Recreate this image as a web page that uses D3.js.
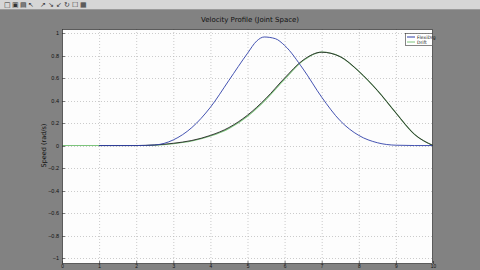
<!DOCTYPE html>
<html>
<head>
<meta charset="utf-8">
<script src="https://cdn.jsdelivr.net/npm/d3@7"></script>
<style>
  html, body { margin: 0; padding: 0; background: #828282; }
  svg { display: block; font-family: "DejaVu Sans", sans-serif; }
</style>
</head>
<body>
<svg id="chart" width="480" height="270"></svg>
<script>
// values (x in s, y in normalised speed)
const xTicks = [0, 1, 2, 3, 4, 5, 6, 7, 8, 9, 10];
const yTicks = [-1, -0.8, -0.6, -0.4, -0.2, 0, 0.2, 0.4, 0.6, 0.8, 1];

const blueX = [1, 1.5, 2, 2.5, 3, 3.5, 4, 4.5, 5, 5.25, 5.45, 5.75, 6, 6.5, 7, 7.5, 8, 8.5, 9, 9.5, 10];
const blueY = [0, 0, 0, 0.005, 0.05, 0.16, 0.34, 0.58, 0.82, 0.93, 0.965, 0.95, 0.89, 0.68, 0.43, 0.22, 0.09, 0.025, 0.003, 0, 0];

const blackX = [1, 2, 2.5, 3, 3.5, 4, 4.5, 5, 5.5, 6, 6.5, 7, 7.5, 8, 8.5, 9, 9.5, 10];
const blackY = [0, 0, 0.005, 0.02, 0.045, 0.09, 0.16, 0.27, 0.42, 0.6, 0.76, 0.83, 0.79, 0.66, 0.49, 0.29, 0.1, 0];

const greenX = [0, 0.5, 1, 2, 2.5, 3, 3.5, 4, 4.5, 5, 5.5, 6, 6.5, 7, 7.5, 8, 8.5, 9, 9.5, 10];
const greenY = [0, 0, 0, 0, 0.003, 0.016, 0.04, 0.084, 0.152, 0.26, 0.41, 0.59, 0.755, 0.83, 0.79, 0.66, 0.49, 0.29, 0.1, 0];

const legendNames = ["FlexiDrg", "Drift"];
const legendColors = ["#2f3fa8", "#7cc47c"];

const svg = d3.select("#chart");

// toolbar strip
svg.append("rect").attr("x", 0).attr("y", 0).attr("width", 480).attr("height", 9).attr("fill", "#d6d6d6");
svg.append("line").attr("x1", 0).attr("x2", 480).attr("y1", 9.5).attr("y2", 9.5).attr("stroke", "#9a9a9a");
const icons = ["\u25A1", "\u25A3", "\u25A4", "\u2196", "\u2197", "\u2198", "\u2199", "\u21BB", "\u2610", "\u25A6"];
svg.append("g").selectAll("text").data(icons).join("text")
  .attr("x", (d, i) => 4 + i * 8 + (i > 3 ? 4 : 0))
  .attr("y", 7)
  .attr("font-size", 7)
  .attr("fill", "#333")
  .text(d => d);

const left = 62, right = 433;
const x = d3.scaleLinear().domain([0, 10]).range([left, right]);
const y = d3.scaleLinear().domain([-1.053, 1.036]).range([264, 29]);

// axes background
svg.append("rect")
  .attr("x", left).attr("y", y(1.036))
  .attr("width", right - left).attr("height", y(-1.053) - y(1.036))
  .attr("fill", "#fdfdfd");

// grid
const grid = svg.append("g").attr("stroke", "#b4b4b4").attr("stroke-width", 0.7).attr("stroke-dasharray", "1,2");
grid.selectAll(".gx").data(xTicks.slice(1, -1)).join("line")
  .attr("x1", d => x(d) + 0.5).attr("x2", d => x(d) + 0.5)
  .attr("y1", y(1.036)).attr("y2", y(-1.053));
grid.selectAll(".gy").data(yTicks).join("line")
  .attr("y1", d => Math.round(y(d)) + 0.5).attr("y2", d => Math.round(y(d)) + 0.5)
  .attr("x1", left).attr("x2", right);

// axes
const xAxis = d3.axisBottom(x).tickValues(xTicks).tickSize(0).tickPadding(0.5).tickFormat(d3.format("d"));
const yAxis = d3.axisLeft(y).tickValues(yTicks).tickSize(0).tickPadding(3).tickFormat(d => d3.format("")(d));

const gx = svg.append("g").attr("transform", `translate(0,${y(-1.053)})`).call(xAxis);
const gy = svg.append("g").attr("transform", `translate(${left},0)`).call(yAxis);
[gx, gy].forEach(g => {
  g.select(".domain").remove();
  g.selectAll("text").attr("font-size", 5.5).attr("fill", "#111");
});
gx.selectAll("text").attr("font-size", 4.8);

// inner tick marks
svg.append("g").selectAll("line").data(yTicks).join("line")
  .attr("x1", left).attr("x2", left + 3)
  .attr("y1", d => Math.round(y(d)) + 0.5).attr("y2", d => Math.round(y(d)) + 0.5)
  .attr("stroke", "#222").attr("stroke-width", 0.6);
svg.append("g").selectAll("line").data(xTicks).join("line")
  .attr("x1", d => x(d) + 0.5).attr("x2", d => x(d) + 0.5)
  .attr("y1", y(-1.053)).attr("y2", y(-1.053) - 3)
  .attr("stroke", "#222").attr("stroke-width", 0.6);

// curves
const line = d3.line().x(d => x(d[0])).y(d => y(d[1])).curve(d3.curveMonotoneX);
const plot = (xs, ys, color, w) => svg.append("path")
  .datum(xs.map((v, i) => [v, ys[i]]))
  .attr("d", line)
  .attr("fill", "none")
  .attr("stroke", color)
  .attr("stroke-width", w);

plot(greenX, greenY, legendColors[1], 1.1);
plot(blackX, blackY, "#262626", 0.9);
plot(blueX, blueY, legendColors[0], 0.9);

// frame
svg.append("rect")
  .attr("x", left + 0.5).attr("y", y(1.036) + 0.5)
  .attr("width", right - left - 1).attr("height", y(-1.053) - y(1.036) - 1)
  .attr("fill", "none").attr("stroke", "#333").attr("stroke-width", 0.8);

// legend
const lg = svg.append("g").attr("transform", "translate(405,33)");
lg.append("rect").attr("x", 0.5).attr("y", 0.5).attr("width", 27).attr("height", 12)
  .attr("fill", "#fff").attr("stroke", "#333").attr("stroke-width", 0.6);
legendNames.forEach((name, i) => {
  lg.append("line").attr("x1", 2).attr("x2", 10).attr("y1", 4 + i * 5).attr("y2", 4 + i * 5)
    .attr("stroke", legendColors[i]).attr("stroke-width", 1);
  lg.append("text").attr("x", 12).attr("y", 5.8 + i * 5).attr("font-size", 4.5).attr("fill", "#111").text(name);
});

// title and y label
svg.append("text").attr("x", 250).attr("y", 22).attr("text-anchor", "middle")
  .attr("font-size", 7).attr("fill", "#111").text("Velocity Profile (Joint Space)");
svg.append("text").attr("transform", `translate(46,${y(0)}) rotate(-90)`).attr("text-anchor", "middle")
  .attr("font-size", 6.5).attr("fill", "#111").text("Speed (rad/s)");
</script>
</body>
</html>
